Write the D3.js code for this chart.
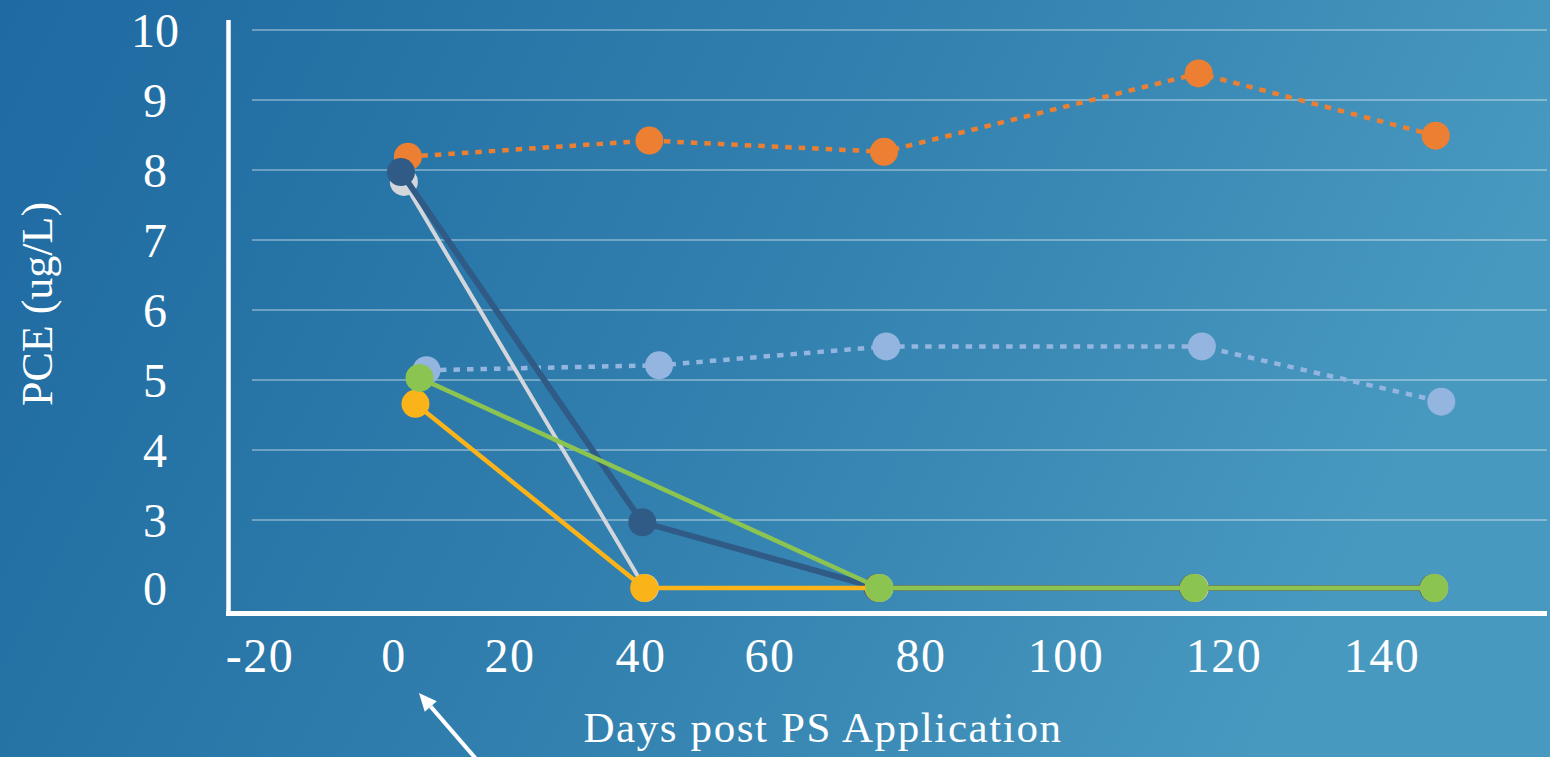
<!DOCTYPE html>
<html><head><meta charset="utf-8">
<script src="https://cdn.jsdelivr.net/npm/d3@7"></script>
<style>html,body{margin:0;padding:0;background:#2a77a8;overflow:hidden}</style>
</head><body>
<svg id="chart" width="1550" height="757"></svg>
<script>
// ---------- data ----------
const xTickValues = [-20, 0, 20, 40, 60, 80, 100, 120, 140];
const yTickValues = [10, 9, 8, 7, 6, 5, 4, 3, 0];
const yAxisTitle = "PCE (ug/L)";
const xAxisTitle = "Days post PS Application";

const orangeDays = [2.4, 41.3, 75.1, 116.8, 146.8];
const orangeVals = [8.19, 8.42, 8.26, 9.38, 8.49];
const lightBlueDays = [5.6, 42.8, 75.4, 117.2, 147.5];
const lightBlueVals = [5.14, 5.21, 5.48, 5.48, 4.69];
const navyDays = [1.2, 40.2, 74.3, 116.1, 146.5];
const navyVals = [7.97, 2.90, 0, 0, 0];
const grayDays = [1.7, 40.6, 74.5, 116.3, 146.6];
const grayVals = [7.83, 0, 0, 0, 0];
const yellowDays = [3.7, 40.5, 74.4, 116.2, 146.6];
const yellowVals = [4.66, 0, 0, 0, 0];
const greenDays = [4.4, 74.5, 116.2, 146.6];
const greenVals = [5.03, 0, 0, 0];

// ---------- layout ----------
const W = 1550, H = 757;
const xLabelPx = [260, 394, 510, 641, 770, 921, 1066, 1224, 1382];
const x = d3.scaleLinear().domain(xTickValues).range(xLabelPx);
const y = d3.scaleLinear().domain([0, 3, 10]).range([588, 520, 30]);

const svg = d3.select("#chart");
const defs = svg.append("defs");
const grad = defs.append("linearGradient").attr("id", "bg")
  .attr("x1", 0).attr("y1", 0).attr("x2", 1).attr("y2", 0.25);
grad.append("stop").attr("offset", 0).attr("stop-color", "#1f6aa2");
grad.append("stop").attr("offset", 0.25).attr("stop-color", "#2673a6");
grad.append("stop").attr("offset", 0.6).attr("stop-color", "#3482b0");
grad.append("stop").attr("offset", 1).attr("stop-color", "#4899c0");
svg.append("rect").attr("width", W).attr("height", H).attr("fill", "url(#bg)");

const font = "'Liberation Serif', 'Times New Roman', serif";

// gridlines (values 3..10)
svg.append("g").selectAll("line")
  .data(yTickValues.filter(v => v >= 3))
  .join("line")
  .attr("x1", 252).attr("x2", 1547)
  .attr("y1", d => y(d)).attr("y2", d => y(d))
  .attr("stroke", "rgba(255,255,255,0.33)").attr("stroke-width", 2);

// y tick labels
svg.append("g").selectAll("text")
  .data(yTickValues)
  .join("text")
  .attr("x", 155).attr("y", d => y(d) + 17)
  .attr("text-anchor", "middle")
  .attr("fill", "#ffffff")
  .style("font-family", font).style("font-size", "48px")
  .text(d => d);

// x tick labels
svg.append("g").selectAll("text")
  .data(xTickValues)
  .join("text")
  .attr("x", d => x(d)).attr("y", 672)
  .attr("text-anchor", "middle")
  .attr("fill", "#ffffff")
  .style("font-family", font).style("font-size", "48px")
  .style("letter-spacing", "1.5px")
  .text(d => d);

// axis titles
svg.append("text")
  .attr("transform", "translate(52,304) rotate(-90)")
  .attr("text-anchor", "middle").attr("fill", "#fff")
  .style("font-family", font).style("font-size", "44px")
  .text(yAxisTitle);
svg.append("text")
  .attr("x", 823).attr("y", 742)
  .attr("text-anchor", "middle").attr("fill", "#fff")
  .style("font-family", font).style("font-size", "43px")
  .style("letter-spacing", "1.6px")
  .text(xAxisTitle);

// axis lines
svg.append("line").attr("x1", 228.5).attr("x2", 228.5).attr("y1", 20).attr("y2", 616)
  .attr("stroke", "#fff").attr("stroke-width", 4.5);
svg.append("line").attr("x1", 226).attr("x2", 1547).attr("y1", 613.5).attr("y2", 613.5)
  .attr("stroke", "#fff").attr("stroke-width", 5);

// series
const series = [
  {days: lightBlueDays, vals: lightBlueVals, color: "#93b5df", width: 4.5, dash: "6.5,7"},
  {days: orangeDays, vals: orangeVals, color: "#ec7f32", width: 4.5, dash: "6.5,7"},
  {days: grayDays, vals: grayVals, color: "#d3d6da", width: 4, dash: null},
  {days: navyDays, vals: navyVals, color: "#2f5b86", width: 6, dash: null},
  {days: yellowDays, vals: yellowVals, color: "#fbb31a", width: 4.5, dash: null},
  {days: greenDays, vals: greenVals, color: "#8cc452", width: 4.5, dash: null}
];
const line = d3.line().x(d => x(d[0])).y(d => y(d[1]));
series.forEach(s => {
  const pts = s.days.map((d, i) => [d, s.vals[i]]);
  const g = svg.append("g");
  g.append("path").datum(pts).attr("d", line)
    .attr("fill", "none").attr("stroke", s.color).attr("stroke-width", s.width)
    .attr("stroke-dasharray", s.dash);
  g.selectAll("circle").data(pts).join("circle")
    .attr("cx", d => x(d[0])).attr("cy", d => y(d[1])).attr("r", 14)
    .attr("fill", s.color);
});

// arrow
const tip = [419, 693], tail = [477, 760];
const dx = tip[0] - tail[0], dy = tip[1] - tail[1];
const L = Math.hypot(dx, dy), ux = dx / L, uy = dy / L;
const hl = 18, hw = 8;
const bx = tip[0] - hl * ux, by = tip[1] - hl * uy;
svg.append("line").attr("x1", tail[0]).attr("y1", tail[1]).attr("x2", bx).attr("y2", by)
  .attr("stroke", "#fff").attr("stroke-width", 4);
svg.append("path")
  .attr("d", `M${tip[0]},${tip[1]}L${bx - hw * uy},${by + hw * ux}L${bx + hw * uy},${by - hw * ux}Z`)
  .attr("fill", "#fff");
</script>
</body></html>
